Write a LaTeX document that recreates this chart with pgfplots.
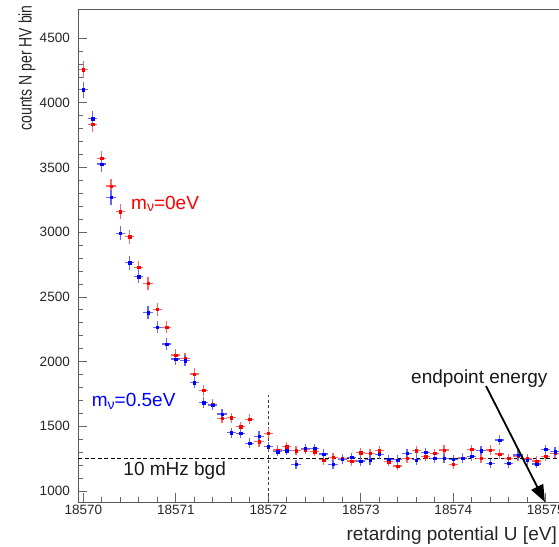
\documentclass[border=0pt]{standalone}
\usepackage{pgfplots}
\pgfplotsset{compat=1.18}
\usepackage{pgfplotstable}
\usepackage{fontspec}
\setmainfont{Liberation Sans}
\usetikzlibrary{arrows.meta}

% x = U - 18570 eV ; r = m_nu = 0 eV ; b = m_nu = 0.5 eV
\pgfplotstableread{
x r b
0.0 4255 4100
0.1 3835 3876
0.2 3571 3527
0.3 3357 3270
0.4 3158 2991
0.5 2965 2764
0.6 2729 2656
0.7 2605 2378
0.8 2404 2265
0.9 2265 2136
1.0 2051 2020
1.1 2025 2007
1.2 1904 1837
1.3 1780 1682
1.4 1670 1665
1.5 1562 1595
1.6 1566 1451
1.7 1497 1446
1.8 1556 1369
1.9 1381 1424
2.0 1446 1342
2.1 1317 1304
2.2 1342 1311
2.3 1311 1206
2.4 1320 1330
2.5 1304 1330
2.6 1240 1286
2.7 1260 1206
2.8 1250 1245
2.9 1232 1262
3.0 1296 1232
3.1 1291 1240
3.2 1311 1284
3.3 1227 1245
3.4 1193 1240
3.5 1253 1291
3.6 1311 1240
3.7 1265 1299
3.8 1291 1253
3.9 1317 1253
4.0 1205 1245
4.1 1255 1253
4.2 1322 1270
4.3 1253 1311
4.4 1317 1214
4.5 1286 1394
4.6 1253 1214
4.7 1268 1278
4.8 1250 1240
4.9 1232 1209
5.0 1270 1322
5.1 1291 1304
}\spectrum

\begin{document}
\begin{tikzpicture}
\useasboundingbox (0,0) rectangle (559bp,547bp);
\clip (0,0) rectangle (559bp,547bp);
\begin{axis}[
  at={(78.3bp,45bp)}, anchor=south west,
  scale only axis, width=495.2bp, height=493bp,
  xmin=-0.054, xmax=5.3, ymin=915, ymax=4725,
  xtick={0,1,2,3,4,5},
  xticklabels={18570,18571,18572,18573,18574,18575},
  minor x tick num=4,
  ytick={1000,1500,2000,2500,3000,3500,4000,4500},
  minor y tick num=4,
  tick pos=left, tick align=inside,
  major tick length=9bp, minor tick length=5bp,
  axis line style={black!65, line width=0.8bp},
  every tick/.style={black!60, line width=0.8bp},
  /pgf/number format/assume math mode=true,
  /pgf/number format/1000 sep={},
  ticklabel style={font=\fontsize{13.5bp}{16bp}\selectfont, text=black!85},
  yticklabel style={xshift=-5bp},
  xlabel={retarding potential U [eV]},
  xlabel style={at={(axis description cs:0.9667,-0.0771)}, anchor=base east,
    inner sep=0pt, font=\fontsize{19bp}{22bp}\selectfont, text=black!85},
  ylabel={\scalebox{1}[1.3]{counts N per HV bin}},
  ylabel style={at={(axis description cs:-0.1036,1.008)}, anchor=east,
    inner sep=0pt, font=\fontsize{14bp}{16bp}\selectfont, text=black!85},
  clip=false,
]
\draw[black, line width=0.9bp, dash pattern=on 4bp off 2.5bp]
  (axis cs:-0.054,1250) -- (axis cs:5.3,1250);
\draw[black!75, line width=0.8bp, dash pattern=on 3bp off 2.5bp]
  (axis cs:2,915) -- (axis cs:2,1742);

\addplot[red, only marks, mark=square*, mark size=1.2bp,
  error bars/.cd, y dir=both, y explicit, x dir=both, x fixed=0.05,
  error mark=none, error bar style={red!60, line width=1.1bp}]
  table[x=x, y=r, y error expr=sqrt(\thisrow{r})] {\spectrum};
\addplot[blue, only marks, mark=square*, mark size=1.2bp,
  error bars/.cd, y dir=both, y explicit, x dir=both, x fixed=0.05,
  error mark=none, error bar style={blue!60, line width=1.1bp}]
  table[x=x, y=b, y error expr=sqrt(\thisrow{b})] {\spectrum};

\draw[black, line width=1.8bp, -{Triangle[length=17bp,width=13bp]}]
  (axis cs:4.354,1811) -- (axis cs:4.991,915);

\node[anchor=base west, inner sep=0pt, text=red, font=\fontsize{19bp}{22bp}\selectfont]
  at (axis cs:0.516,3179) {m\raisebox{-2.5bp}{\fontsize{14bp}{14bp}\selectfont ν}=0eV};
\node[anchor=base west, inner sep=0pt, text=blue, font=\fontsize{19bp}{22bp}\selectfont]
  at (axis cs:0.091,1651) {m\raisebox{-2.5bp}{\fontsize{14bp}{14bp}\selectfont ν}=0.5eV};
\node[anchor=base west, inner sep=0pt, text=black!90, font=\fontsize{19bp}{22bp}\selectfont]
  at (axis cs:0.432,1116) {10 mHz bgd};
\node[anchor=base west, inner sep=0pt, text=black!90, font=\fontsize{19bp}{22bp}\selectfont]
  at (axis cs:3.543,1832) {endpoint energy};
\end{axis}
\end{tikzpicture}
\end{document}
